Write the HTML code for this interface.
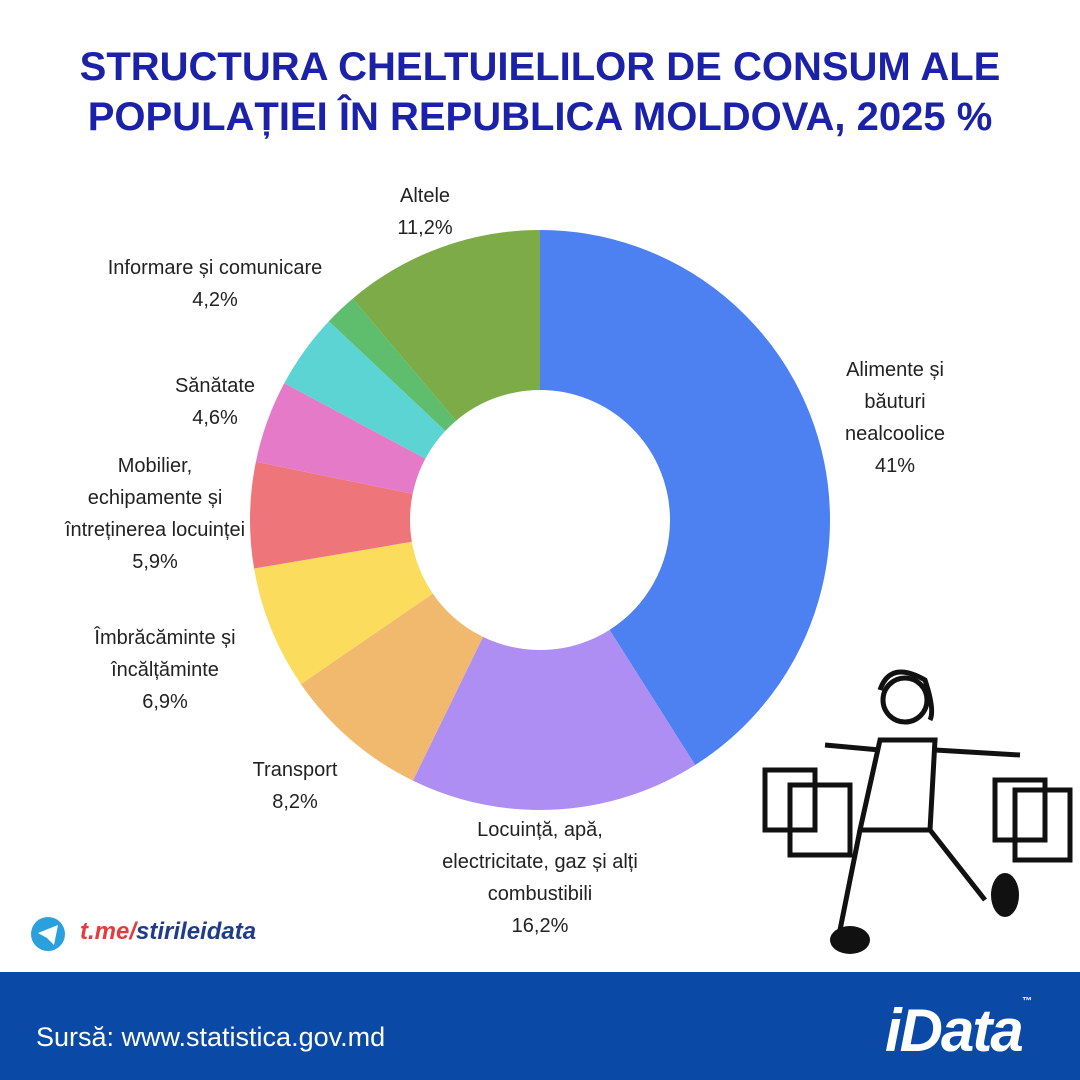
<!DOCTYPE html>
<html><head><meta charset="utf-8"><style>
body{margin:0;width:1080px;height:1080px;background:#fff;font-family:"Liberation Sans",sans-serif;position:relative;overflow:hidden}
.t{position:absolute;left:0;width:1080px;text-align:center;color:#1b22a8;font-weight:bold;font-size:40px;line-height:50px;top:42px}
.l{position:absolute;font-size:20px;line-height:32px;color:#222;text-align:center}
.foot{position:absolute;left:0;top:972px;width:1080px;height:108px;background:#0a4aa6}
</style></head><body>
<div class="t">STRUCTURA CHELTUIELILOR DE CONSUM ALE<br>POPULAȚIEI ÎN REPUBLICA MOLDOVA, 2025 %</div>
<svg width="1080" height="1080" style="position:absolute;left:0;top:0">
<g transform="rotate(-90 540 520)" fill="none" stroke-width="160">
<circle cx="540" cy="520" r="210" stroke="#4d80f0" stroke-dasharray="541 1000" stroke-dashoffset="0"/>
<circle cx="540" cy="520" r="210" stroke="#ae8ef2" stroke-dasharray="213.8 1200" stroke-dashoffset="-541"/>
<circle cx="540" cy="520" r="210" stroke="#f0b96e" stroke-dasharray="108.2 1200" stroke-dashoffset="-754.8"/>
<circle cx="540" cy="520" r="210" stroke="#fcdc5c" stroke-dasharray="91 1200" stroke-dashoffset="-863"/>
<circle cx="540" cy="520" r="210" stroke="#ee757a" stroke-dasharray="77.8 1200" stroke-dashoffset="-954"/>
<circle cx="540" cy="520" r="210" stroke="#e57ac8" stroke-dasharray="60.7 1200" stroke-dashoffset="-1031.8"/>
<circle cx="540" cy="520" r="210" stroke="#5dd4d4" stroke-dasharray="55.4 1200" stroke-dashoffset="-1092.5"/>
<circle cx="540" cy="520" r="210" stroke="#5ebe6e" stroke-dasharray="23.8 1200" stroke-dashoffset="-1147.9"/>
<circle cx="540" cy="520" r="210" stroke="#7cab48" stroke-dasharray="147.8 1200" stroke-dashoffset="-1171.7"/>
</g>
<circle cx="48" cy="934" r="17" fill="#2aa0dc"/>
<path d="M38 933 L58 925 L54 945 L47 938 Z" fill="#fff"/>
<g stroke="#111" stroke-width="5" fill="none">
<circle cx="905" cy="700" r="22"/>
<path d="M880 690 q10 -30 45 -10 q10 30 5 40"/>
<path d="M880 740 L860 830 L930 830 L935 740 Z"/>
<path d="M880 750 L825 745 M935 750 L1020 755"/>
<path d="M860 830 L840 930 M930 830 L985 900"/>
<rect x="790" y="785" width="60" height="70"/><rect x="765" y="770" width="50" height="60"/>
<rect x="995" y="780" width="50" height="60"/><rect x="1015" y="790" width="55" height="70"/>
</g>
<ellipse cx="850" cy="940" rx="20" ry="14" fill="#111"/>
<ellipse cx="1005" cy="895" rx="14" ry="22" fill="#111"/>
</svg>
<div class="l" style="left:340px;top:180px;width:170px">Altele<br>11,2%</div>
<div class="l" style="left:60px;top:252px;width:310px">Informare și comunicare<br>4,2%</div>
<div class="l" style="left:130px;top:370px;width:170px">Sănătate<br>4,6%</div>
<div class="l" style="left:40px;top:450px;width:230px">Mobilier,<br>echipamente și<br>întreținerea locuinței<br>5,9%</div>
<div class="l" style="left:60px;top:622px;width:210px">Îmbrăcăminte și<br>încălțăminte<br>6,9%</div>
<div class="l" style="left:220px;top:754px;width:150px">Transport<br>8,2%</div>
<div class="l" style="left:410px;top:814px;width:260px">Locuință, apă,<br>electricitate, gaz și alți<br>combustibili<br>16,2%</div>
<div class="l" style="left:810px;top:354px;width:170px">Alimente și<br>băuturi<br>nealcoolice<br>41%</div>
<div style="position:absolute;left:80px;top:918px;font-size:24px;font-weight:bold;font-style:italic;color:#1f3b8f"><span style="color:#e33c3c">t.me/</span>stirileidata</div>
<div class="foot">
<div style="position:absolute;left:36px;top:50px;color:#fff;font-size:27px">Sursă: www.statistica.gov.md</div>
<div style="position:absolute;left:885px;top:24px;color:#fff;font-size:60px;font-weight:bold;font-style:italic;letter-spacing:-2px">iData<span style="font-size:10px;vertical-align:top">™</span></div>
</div>
</body></html>
